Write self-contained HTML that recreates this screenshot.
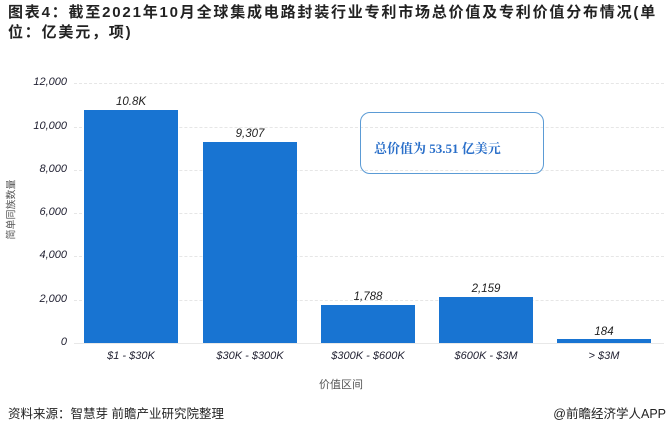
<!DOCTYPE html>
<html><head><meta charset="utf-8"><style>
body{margin:0;width:670px;height:434px;background:#fff;position:relative;overflow:hidden;font-family:"Liberation Sans","Noto Sans CJK SC",sans-serif}
.t{position:absolute;left:8px;top:3px;width:662px;font-size:15px;letter-spacing:1.8px;font-weight:bold;color:#222;line-height:20px;white-space:nowrap}
.yl{position:absolute;right:603px;font-size:11px;font-style:italic;color:#223;text-align:right}
.g{position:absolute;left:74px;width:590px;border-top:1px dashed #e6e6e6;height:0}
.b{position:absolute;background:#1874d2;width:94px}
.v{position:absolute;width:94px;text-align:center;font-size:11.5px;font-style:italic;color:#222}
.x{position:absolute;width:120px;text-align:center;font-size:11px;font-style:italic;color:#223;top:350px}
</style></head><body>
<div class="t">图表4：截至2021年10月全球集成电路封装行业专利市场总价值及专利价值分布情况(单<br>位：亿美元，项)</div>
<div class="g" style="top:83px"></div><div class="g" style="top:127px"></div><div class="g" style="top:170px"></div><div class="g" style="top:213px"></div><div class="g" style="top:256px"></div><div class="g" style="top:300px"></div>
<div class="g" style="top:343px;border-top:1px solid #e8e8e8"></div>
<div class="yl" style="top:76px">12,000</div><div class="yl" style="top:120px">10,000</div><div class="yl" style="top:163px">8,000</div><div class="yl" style="top:206px">6,000</div><div class="yl" style="top:249px">4,000</div><div class="yl" style="top:293px">2,000</div><div class="yl" style="top:336px">0</div>
<div style="position:absolute;left:0;top:222px;width:20px;font-size:10px;color:#555;transform:rotate(-90deg);transform-origin:center;white-space:nowrap;text-align:center">简单同族数量</div>
<div class="b" style="left:84px;top:110px;height:233px"></div><div class="v" style="left:84px;top:96px">10.8K</div>
<div class="b" style="left:203px;top:142px;height:201px"></div><div class="v" style="left:203px;top:128px">9,307</div>
<div class="b" style="left:321px;top:305px;height:38px"></div><div class="v" style="left:321px;top:291px">1,788</div>
<div class="b" style="left:439px;top:297px;height:46px"></div><div class="v" style="left:439px;top:283px">2,159</div>
<div class="b" style="left:557px;top:339px;height:4px"></div><div class="v" style="left:557px;top:326px">184</div>
<div class="x" style="left:71px">$1 - $30K</div><div class="x" style="left:190px">$30K - $300K</div><div class="x" style="left:308px">$300K - $600K</div><div class="x" style="left:426px">$600K - $3M</div><div class="x" style="left:544px">&gt; $3M</div>
<div style="position:absolute;left:319px;top:376px;font-size:11px;color:#555">价值区间</div>
<div style="position:absolute;left:360px;top:112px;width:184px;height:62px;border:1px solid #5b9bd5;border-radius:10px;box-sizing:border-box"></div>
<div style="position:absolute;left:374px;top:138px;font-size:13px;font-weight:bold;color:#2a6fc9;font-family:'Liberation Serif','Noto Serif CJK SC',serif">总价值为 53.51 亿美元</div>
<div style="position:absolute;left:8px;top:403px;font-size:12.5px;color:#222">资料来源：智慧芽 前瞻产业研究院整理</div>
<div style="position:absolute;right:4px;top:403px;font-size:12.5px;color:#222">@前瞻经济学人APP</div>
</body></html>
